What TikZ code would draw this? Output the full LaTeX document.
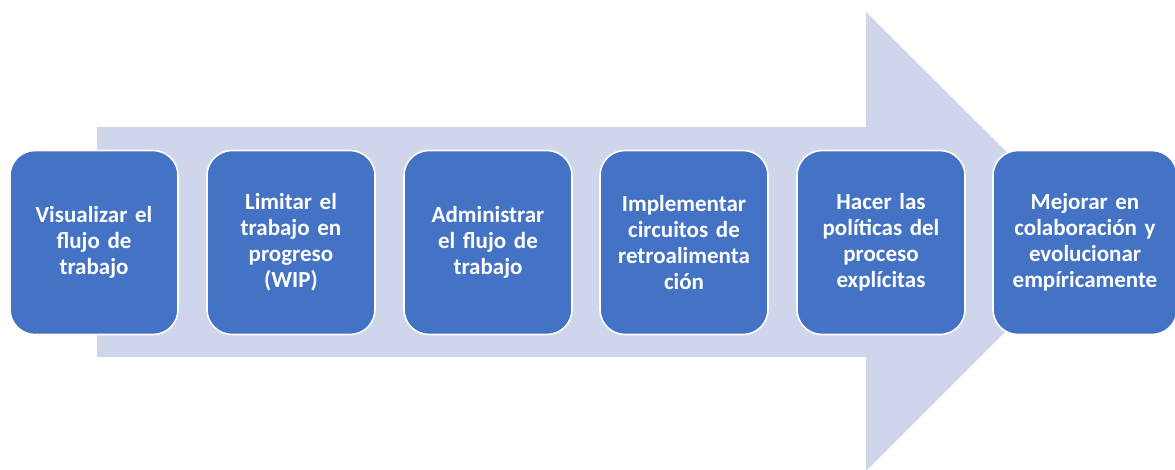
\documentclass[tikz,border=0pt]{standalone}
\usepackage{fontspec}
\setmainfont[WordSpace=0.75]{Carlito}
\usepackage{tikz}
\definecolor{boxblue}{HTML}{4472C4}
\definecolor{arrowlav}{HTML}{CFD5EA}
\tikzset{pbox/.style={rectangle, rounded corners=25pt, draw=white, line width=1.6pt, fill=boxblue, text=white, align=center, inner sep=0pt, minimum width=168pt, minimum height=184pt, text width=164pt, font=\fontsize{23}{26}\selectfont\bfseries}}
\tikzset{empty/.style={draw=none, fill=none}}

\begin{document}
\begin{tikzpicture}[x=1pt, y=-1pt]

\useasboundingbox (0,0) rectangle (1175,469);
\clip (0,0) rectangle (1175,469);

\fill[arrowlav] (97,127) -- (866,127) -- (866,12) -- (1096,241) -- (866,471) -- (866,357) -- (97,357) -- cycle;

\node[pbox] (s1) at (94,242.5) {Visualizar el\\flujo de\\trabajo};
\node[pbox] (s2) at (291,242.5) {Limitar el\\trabajo en\\progreso\\(WIP)};
\node[pbox] (s3) at (488,242.5) {Administrar\\el flujo de\\trabajo};
\node[pbox] (s4) at (684,242.5) {Implementar\\circuitos de\\retroalimenta\\ción};
\node[pbox] (s5) at (881,242.5) {Hacer las\\políticas del\\proceso\\explícitas};
\node[pbox, minimum width=184pt] (s6) at (1085,242.5) {Mejorar en\\colaboración y\\evolucionar\\empíricamente};

\end{tikzpicture}
\end{document}
